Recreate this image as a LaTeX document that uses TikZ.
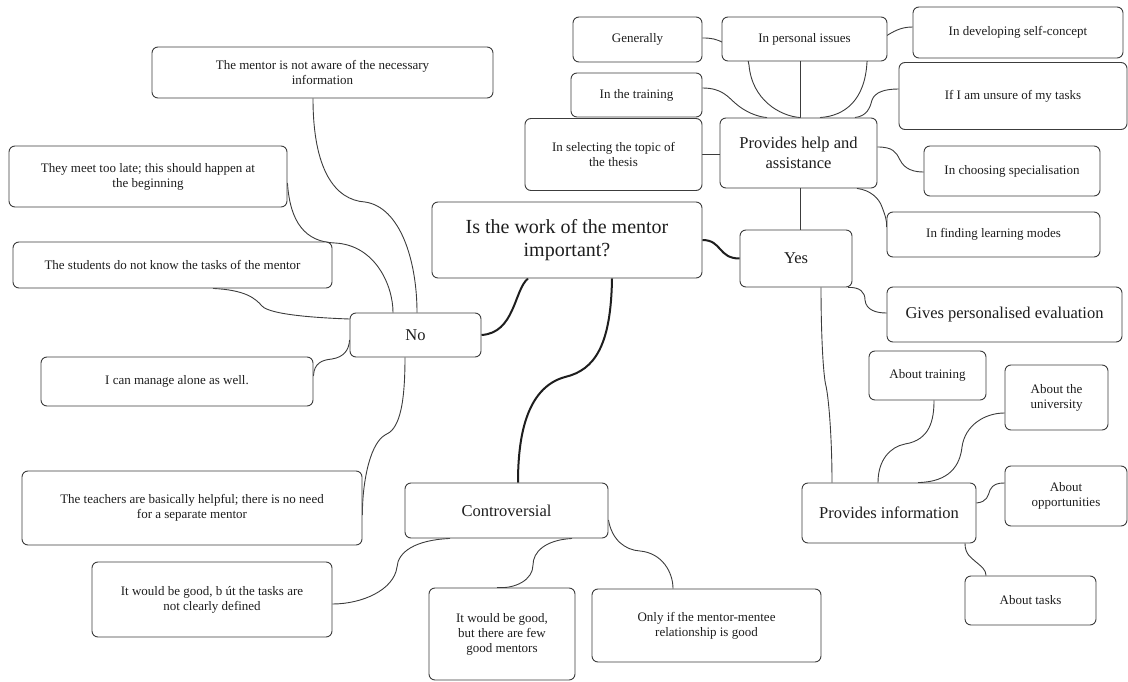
\documentclass[tikz,border=0pt]{standalone}
\usepackage{fontspec}
\setmainfont{Liberation Serif}
\usetikzlibrary{backgrounds}

\definecolor{edgegray}{HTML}{3C3C3C}
\definecolor{inkgray}{HTML}{1E1E1E}

\tikzset{
  card/.style={draw=edgegray, line width=0.9pt, rounded corners=6pt, fill=white,
               align=center, inner sep=0pt, text=inkgray},
  small/.style={font=\fontsize{13}{15}\selectfont},
  medium/.style={font=\fontsize{16.5}{20}\selectfont},
  large/.style={font=\fontsize{20}{23.3}\selectfont},
  link/.style={draw=edgegray, line width=0.9pt},
  mainlink/.style={draw=inkgray, line width=2pt},
}

\begin{document}
\begin{tikzpicture}[x=1pt, y=-1pt]
\useasboundingbox (0,0) rectangle (1128,682);

% ---- central question and its three answers
\node[card, large, minimum width=270pt, minimum height=76pt] (central) at (567,240)
  {Is the work of the mentor\\important?};
\node[card, medium, minimum width=131pt, minimum height=44pt] (no) at (415.5,335) {No};
\node[card, medium, minimum width=112pt, minimum height=57pt] (yes) at (796,258.5) {Yes};
\node[card, medium, minimum width=203pt, minimum height=55pt] (contro) at (506.5,510.5) {Controversial};

% ---- reasons for "No"
\node[card, small, minimum width=341pt, minimum height=51pt] (aware) at (322.5,72.5)
  {The mentor is not aware of the necessary\\information};
\node[card, small, minimum width=278pt, minimum height=61pt] (meet) at (148,176.5)
  {They meet too late; this should happen at\\the beginning};
\node[card, small, minimum width=319pt, minimum height=46pt] (students) at (172.5,265)
  {The students do not know the tasks of the mentor};
\node[card, small, minimum width=272pt, minimum height=49pt] (manage) at (177,381.5)
  {I can manage alone as well.};
\node[card, small, minimum width=340pt, minimum height=74pt] (teachers) at (192,508)
  {The teachers are basically helpful; there is no need\\for a separate mentor};

% ---- "Controversial" branch
\node[card, small, minimum width=240pt, minimum height=75pt] (but) at (212,599.5)
  {It would be good, b út the tasks are\\not clearly defined};
\node[card, small, minimum width=146pt, minimum height=92pt] (fewgood) at (502,634)
  {It would be good,\\but there are few\\good mentors};
\node[card, small, minimum width=229pt, minimum height=73pt] (onlyif) at (706.5,625.5)
  {Only if the mentor-mentee\\relationship is good};

% ---- "Yes" branch: help and assistance
\node[card, medium, minimum width=157pt, minimum height=70pt] (help) at (798.5,153)
  {Provides help and\\assistance};
\node[card, small, minimum width=129pt, minimum height=45pt] (generally) at (637.5,39.5) {Generally};
\node[card, small, minimum width=165pt, minimum height=44pt] (personal) at (804.5,39) {In personal issues};
\node[card, small, minimum width=210pt, minimum height=51pt] (selfcon) at (1018,32.5) {In developing self-concept};
\node[card, small, minimum width=131pt, minimum height=44pt] (training) at (636.5,95) {In the training};
\node[card, small, minimum width=228pt, minimum height=67pt] (unsure) at (1013,96) {If I am unsure of my tasks};
\node[card, small, minimum width=177pt, minimum height=72pt] (topic) at (613.5,154.5)
  {In selecting the topic of\\the thesis};
\node[card, small, minimum width=176pt, minimum height=50pt] (special) at (1012,171) {In choosing specialisation};
\node[card, small, minimum width=213pt, minimum height=45pt] (modes) at (993.5,234.5) {In finding learning modes};
\node[card, medium, minimum width=235pt, minimum height=55pt] (evaluation) at (1004.5,314.5)
  {Gives personalised evaluation};

% ---- "Yes" branch: information
\node[card, medium, minimum width=174pt, minimum height=60pt] (info) at (889,513) {Provides information};
\node[card, small, minimum width=117pt, minimum height=49pt] (abtrain) at (927.5,375.5) {About training};
\node[card, small, minimum width=103pt, minimum height=65pt] (abuni) at (1056.5,397.5) {About the\\university};
\node[card, small, minimum width=122pt, minimum height=60pt] (abopp) at (1066,496) {About\\opportunities};
\node[card, small, minimum width=131pt, minimum height=49pt] (abtask) at (1030.5,600.5) {About tasks};

% ---- connectors, drawn beneath the cards
\begin{scope}[on background layer]
  % from the central question
  \draw[mainlink] ([xshift=-39pt]central.south) .. controls (514,290) and (515,333) .. (no.east);
  \draw[mainlink] (central.east) .. controls (722,240) and (718,258.5) .. (yes.west);
  \draw[mainlink] ([xshift=45pt]central.south) .. controls (611,345) and (595,370) .. (565,377)
                  .. controls (525,388) and (518,440) .. ([xshift=11.5pt]contro.north);

  % "No" branch
  \draw[link] ([xshift=-9.5pt]aware.south) .. controls (313,170) and (335,200) .. (365,202)
              .. controls (400,207) and (417,260) .. ([xshift=1.5pt]no.north);
  \draw[link] ([yshift=-6.5pt]meet.east) .. controls (290,222) and (305,242) .. (335,243)
              .. controls (375,245) and (393,285) .. ([xshift=-22.5pt]no.north);
  \draw[link] ([xshift=40.5pt]students.south) .. controls (245,290) and (255,298) .. (262,306)
              .. controls (270,315) and (320,318) .. ([yshift=16pt]no.west);
  \draw[link] ([yshift=5.5pt]manage.east) .. controls (314,363) and (322,360) .. (332,359)
              .. controls (344,357) and (349,350) .. ([yshift=-5pt]no.west);
  \draw[link] ([xshift=-10.5pt]no.south) .. controls (405,410) and (398,430) .. (385,435)
              .. controls (368,445) and (362,490) .. ([yshift=-7pt]teachers.east);

  % "Controversial" branch
  \draw[link] ([xshift=-56.5pt]contro.south) .. controls (415,540) and (398,552) .. (397,567)
              .. controls (394,590) and (362,604) .. ([yshift=-4.5pt]but.east);
  \draw[link] ([xshift=65.5pt]contro.south) .. controls (545,540) and (533,552) .. (533,565)
              .. controls (533,580) and (515,589) .. ([xshift=-5pt]fewgood.north);
  \draw[link] ([yshift=-9.5pt]contro.east) .. controls (612,540) and (625,550) .. (640,551)
              .. controls (662,553) and (673,572) .. ([xshift=-33.5pt]onlyif.north);

  % "Yes" branch
  \draw[link] ([xshift=2pt]help.south) -- ([xshift=2pt]help.south |- yes.north);
  \draw[link] ([xshift=25pt]yes.south) .. controls (821,330) and (823,375) .. (826,386)
              .. controls (829,400) and (832,440) .. ([xshift=-57pt]info.north);
  \draw[link] ([xshift=52pt]yes.south) .. controls (860,287) and (865,292) .. (865,300)
              .. controls (866,310) and (876,313) .. ([yshift=1.5pt]evaluation.west);

  % help and assistance
  \draw[link] (topic.east) -- (topic.east -| help.west);
  \draw[link] ([yshift=7pt]training.east) .. controls (722,88) and (728,97) .. (735,103)
              .. controls (745,112) and (758,117) .. ([xshift=-31.5pt]help.north);
  \draw[link] ([xshift=2pt]help.north) -- ([xshift=2pt]help.north |- personal.south);
  \draw[link] ([yshift=1.5pt]generally.east) .. controls (712,38) and (716,39) .. (724,43)
              .. controls (740,50) and (748,55) .. (749,65)
              .. controls (752,100) and (780,116) .. ([xshift=1.5pt]help.north);
  \draw[link] ([yshift=5.5pt]selfcon.west) .. controls (900,27) and (893,32) .. (886,36)
              .. controls (875,42) and (868,50) .. (867,62)
              .. controls (865,100) and (845,116) .. ([xshift=21.5pt]help.north);
  \draw[link] ([xshift=56.5pt]help.north) .. controls (867,116) and (870,108) .. (872,100)
              .. controls (875,92) and (885,89) .. ([yshift=7pt]unsure.west);
  \draw[link] ([yshift=6pt]help.east) .. controls (893,147) and (896,152) .. (900,160)
              .. controls (905,170) and (915,172) .. ([yshift=-1pt]special.west);
  \draw[link] ([xshift=58.5pt]help.south) .. controls (870,190) and (879,198) .. (882,207)
              .. controls (885,215) and (887,220) .. ([yshift=7.5pt]modes.west);

  % information
  \draw[link] ([xshift=-11pt]info.north) .. controls (878,460) and (890,447) .. (905,444)
              .. controls (930,440) and (934,420) .. ([xshift=6.5pt]abtrain.south);
  \draw[link] ([xshift=29pt]info.north) .. controls (950,482) and (960,465) .. (962,447)
              .. controls (965,425) and (985,413) .. ([yshift=-15.5pt]abuni.west);
  \draw[link] ([yshift=10pt]info.east) .. controls (987,502) and (988,496) .. (990,490)
              .. controls (993,484) and (998,483) .. ([yshift=13pt]abopp.west);
  \draw[link] ([xshift=76pt]info.south) .. controls (965,555) and (972,558) .. (976,562)
              .. controls (982,567) and (986,570) .. ([xshift=-44.5pt]abtask.north);
\end{scope}
\end{tikzpicture}
\end{document}
